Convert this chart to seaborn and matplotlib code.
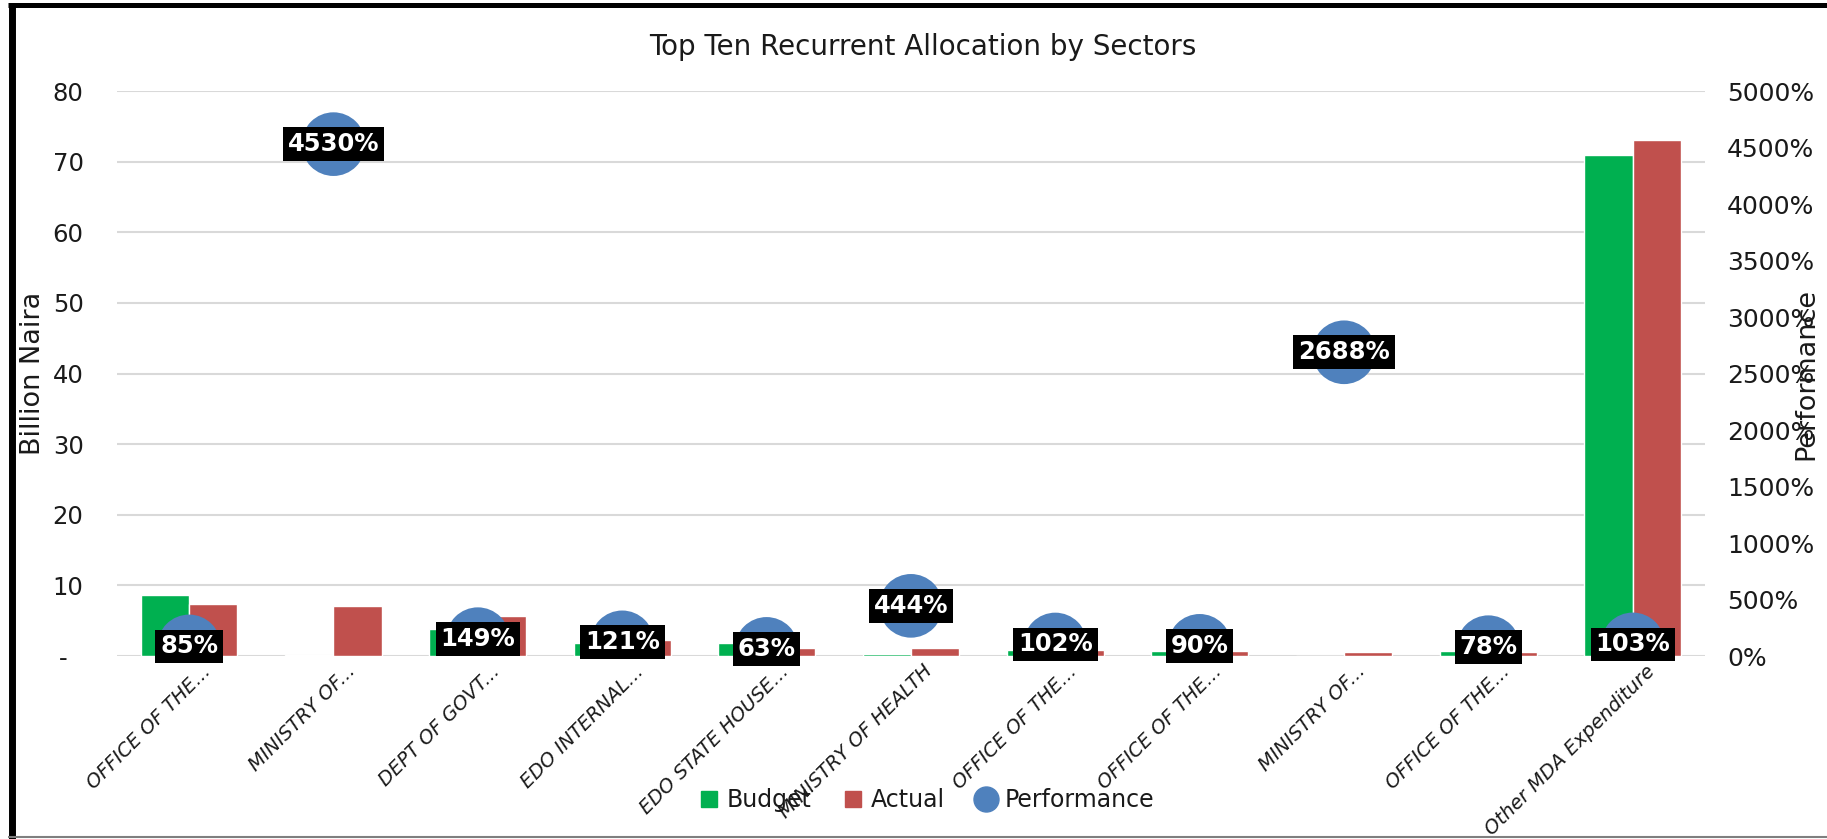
import numpy as np
import pandas as pd
import matplotlib
matplotlib.use("Agg")
import matplotlib.pyplot as plt
import matplotlib.transforms as mtransforms
from matplotlib.lines import Line2D
import seaborn as sns

# ---- data (Billion Naira / percent) ----
sectors = [
    "OFFICE OF THE...",
    "MINISTRY OF...",
    "DEPT OF GOVT...",
    "EDO INTERNAL...",
    "EDO STATE HOUSE...",
    "MINISTRY OF HEALTH",
    "OFFICE OF THE...",
    "OFFICE OF THE...",
    "MINISTRY OF...",
    "OFFICE OF THE...",
    "Other MDA Expenditure",
]
budget = [8.70, 0.158, 3.76, 1.82, 1.80, 0.27, 0.82, 0.75, 0.0223, 0.78, 70.9]
actual = [7.40, 7.15, 5.62, 2.20, 1.13, 1.20, 0.84, 0.675, 0.60, 0.61, 73.0]
performance = [85, 4530, 149, 121, 63, 444, 102, 90, 2688, 78, 103]

left_ticks = list(range(0, 81, 10))
left_tick_labels = ["-  "] + [str(v) for v in left_ticks[1:]]
right_ticks = list(range(0, 5001, 500))
right_tick_labels = [f"{v}%" for v in right_ticks]

GREEN = "#00B050"
RED = "#C0504D"
BLUE = "#4F81BD"
GRID = "#D9D9D9"
TEXT = "#1a1a1a"

n = len(sectors)
df = pd.DataFrame({
    "pos": list(range(n)) * 2,
    "Series": ["Budget"] * n + ["Actual"] * n,
    "Value": budget + actual,
})

sns.set_theme(style="white")
plt.rcParams["font.family"] = ["DejaVu Sans"]

fig = plt.figure(figsize=(18.27, 8.39), dpi=100)
ax = fig.add_axes([0.064, 0.2181, 0.8692, 0.6734])

sns.barplot(data=df, x="pos", y="Value", hue="Series",
            palette={"Budget": GREEN, "Actual": RED},
            hue_order=["Budget", "Actual"],
            width=0.67, gap=0, saturation=1, errorbar=None,
            legend=False, ax=ax)

ax2 = ax.twinx()
sns.scatterplot(x=np.arange(n), y=performance, ax=ax2, s=2100,
                color=BLUE, edgecolor="none", linewidth=0,
                legend=False, zorder=3)

for i, p in enumerate(performance):
    ax2.text(i, p, f"{p}%", ha="center", va="center", color="white",
             fontsize=17.5, fontweight="bold", zorder=5,
             bbox=dict(boxstyle="square,pad=0.2", fc="black", ec="none"))

ax.set_xlim(-0.5, n - 0.5)
ax.set_ylim(0, 80)
ax2.set_ylim(0, 5000)

ax.set_yticks(left_ticks)
ax.set_yticklabels(left_tick_labels)
ax2.set_yticks(right_ticks)
ax2.set_yticklabels(right_tick_labels)

ax.tick_params(axis="x", length=0, pad=4)
ax.tick_params(axis="y", length=0, pad=24, labelsize=17.5, labelcolor=TEXT)
ax2.tick_params(axis="y", length=0, pad=16, labelsize=18, labelcolor=TEXT)

ax.set_xticks(range(n))
ax.set_xticklabels(sectors, rotation=45, ha="right", va="top",
                   rotation_mode="anchor", fontstyle="italic", fontsize=14,
                   color=TEXT)
# nudge the slanted category labels a little to the right of each tick
shift = mtransforms.ScaledTranslation(0.12, 0, fig.dpi_scale_trans)
for lbl in ax.get_xticklabels():
    lbl.set_transform(lbl.get_transform() + shift)

ax.yaxis.grid(True, color=GRID, linewidth=1.5)
ax.xaxis.grid(False)
ax2.grid(False)
ax.set_axisbelow(True)
for a in (ax, ax2):
    for s in a.spines.values():
        s.set_visible(False)

ax.set_xlabel("")
ax.set_ylabel("Billion Naira", fontsize=19.5, color=TEXT)
ax.yaxis.set_label_coords(-0.053, 0.5)
ax.yaxis.label.set_va("center")
ax2.set_xlabel("")
ax2.set_ylabel("Performance", fontsize=19.5, color=TEXT)
ax2.yaxis.set_label_coords(1.064, 0.5)
ax2.yaxis.label.set_va("center")

fig.suptitle("Top Ten Recurrent Allocation by Sectors", x=0.505, y=0.944,
             va="center", fontsize=20, color=TEXT)

handles = [
    Line2D([], [], marker="s", ls="none", color=GREEN, markersize=11),
    Line2D([], [], marker="s", ls="none", color=RED, markersize=11),
    Line2D([], [], marker="o", ls="none", color=BLUE, markersize=18),
]
fig.legend(handles, ["Budget", "Actual", "Performance"], loc="center",
           bbox_to_anchor=(0.507, 0.0465), ncol=3, frameon=False,
           fontsize=17, handlelength=0.9, handletextpad=0.3,
           columnspacing=1.3, labelcolor=TEXT)

# outer frame: heavy black top/left, thin grey bottom
fig.add_artist(Line2D([0.0063, 0.0063], [0.0, 0.994], transform=fig.transFigure,
                      color="black", linewidth=5, solid_capstyle="butt"))
fig.add_artist(Line2D([0.0045, 1.0], [0.994, 0.994], transform=fig.transFigure,
                      color="black", linewidth=3.6, solid_capstyle="butt"))
fig.add_artist(Line2D([0.0045, 1.0], [0.0018, 0.0018], transform=fig.transFigure,
                      color="#7f7f7f", linewidth=1.5, solid_capstyle="butt"))

fig.savefig("out.png", dpi=100)
